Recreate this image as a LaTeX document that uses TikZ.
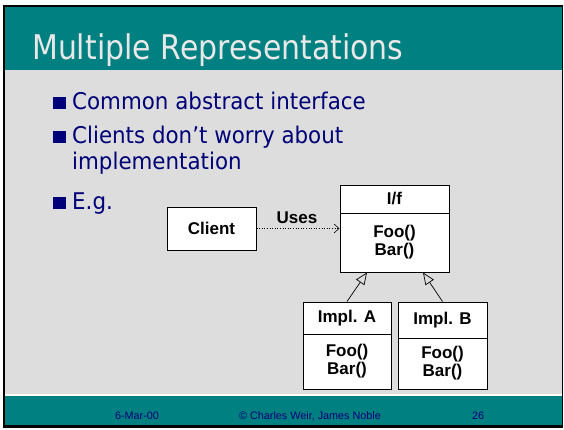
\documentclass[tikz,border=0pt]{standalone}
\usepackage{fontspec}
\setmainfont{Liberation Sans}
\newfontfamily\slidefont[FakeStretch=0.93]{DejaVu Sans}
\newfontfamily\titlefont[FakeStretch=0.88]{DejaVu Sans}
\usetikzlibrary{arrows.meta}
\definecolor{slideteal}{RGB}{0,128,128}
\definecolor{slidegray}{RGB}{221,221,221}
\definecolor{slidenavy}{RGB}{0,0,120}
\definecolor{titlegray}{RGB}{232,232,232}

\begin{document}
\begin{tikzpicture}[x=1pt,y=-1pt,
  classbox/.style={draw,fill=white,line width=1pt,inner sep=0pt,align=center,
    font=\bfseries\fontsize{17}{18}\selectfont},
  bullettext/.style={anchor=base west,inner sep=0pt,text=slidenavy,
    font=\slidefont\fontsize{23}{26}\selectfont},
  footertext/.style={anchor=base,inner sep=0pt,text=slidenavy,
    font=\fontsize{10.8}{12}\selectfont}]
  \useasboundingbox (0,0) rectangle (564,429);
  \fill [white] (0,0) rectangle (564,429);
  \fill [black] (3,4.5) rectangle (563,427.5);
  \fill [slideteal] (5,7) rectangle (561.5,70);
  \fill [slidegray] (5,70) rectangle (561.5,394);
  \fill [white] (5,394) rectangle (561.5,396);
  \fill [slideteal] (5,396) rectangle (561.5,425);

  \draw node [anchor=base west,inner sep=0pt,text=titlegray,
    font=\titlefont\fontsize{34}{40}\selectfont] (title) at (32,59) {Multiple Representations};

  \foreach \y in {109,143,209}
    \fill [slidenavy] (52.5,\y-12.5) rectangle (66,\y-0.5);
  \draw node [bullettext] (common) at (72,109) {Common abstract interface};
  \draw node [bullettext] (clients) at (72,143) {Clients don’t worry about};
  \draw node [bullettext] (implementation) at (72,169) {implementation};
  \draw node [bullettext] (eg) at (72,209) {E.g.};

  \draw node [classbox,minimum width=89pt,minimum height=43pt] (client) at (211.5,228.5) {Client};
  \draw node [classbox,minimum width=109pt,minimum height=28pt] (ifhead) at (394.5,199) {I/f};
  \draw node [classbox,minimum width=109pt,minimum height=59pt] (ifbody) at (394.5,242.5) {Foo()\\Bar()};
  \draw node [classbox,minimum width=88pt,minimum height=32pt] (implahead) at (347,318) {Impl. A};
  \draw node [classbox,minimum width=88pt,minimum height=55pt] (implabody) at (347,361.5) {Foo()\\Bar()};
  \draw node [classbox,minimum width=89pt,minimum height=36pt] (implbhead) at (442.5,320) {Impl. B};
  \draw node [classbox,minimum width=89pt,minimum height=51pt] (implbbody) at (442.5,363.5) {Foo()\\Bar()};

  \draw [-{Straight Barb[length=5pt,width=9pt]}] [dotted] [line width=0.6pt] (client.east)--(client -| ifbody.west);
  \draw node [font=\bfseries\fontsize{17}{18}\selectfont] (uses) at (297,218) {Uses};
  \draw [-{Triangle[open,length=12pt,width=10pt]}] [line width=0.7pt] (implahead.north)--([xshift=-27.5pt]ifbody.south);
  \draw [-{Triangle[open,length=12pt,width=10pt]}] [line width=0.7pt] (implbhead.north)--([xshift=28.5pt]ifbody.south);

  \draw node [footertext] (date) at (137,419) {6-Mar-00};
  \draw node [footertext] (authors) at (310,419) {© Charles Weir, James Noble};
  \draw node [footertext] (page) at (478,419) {26};
\end{tikzpicture}
\end{document}
